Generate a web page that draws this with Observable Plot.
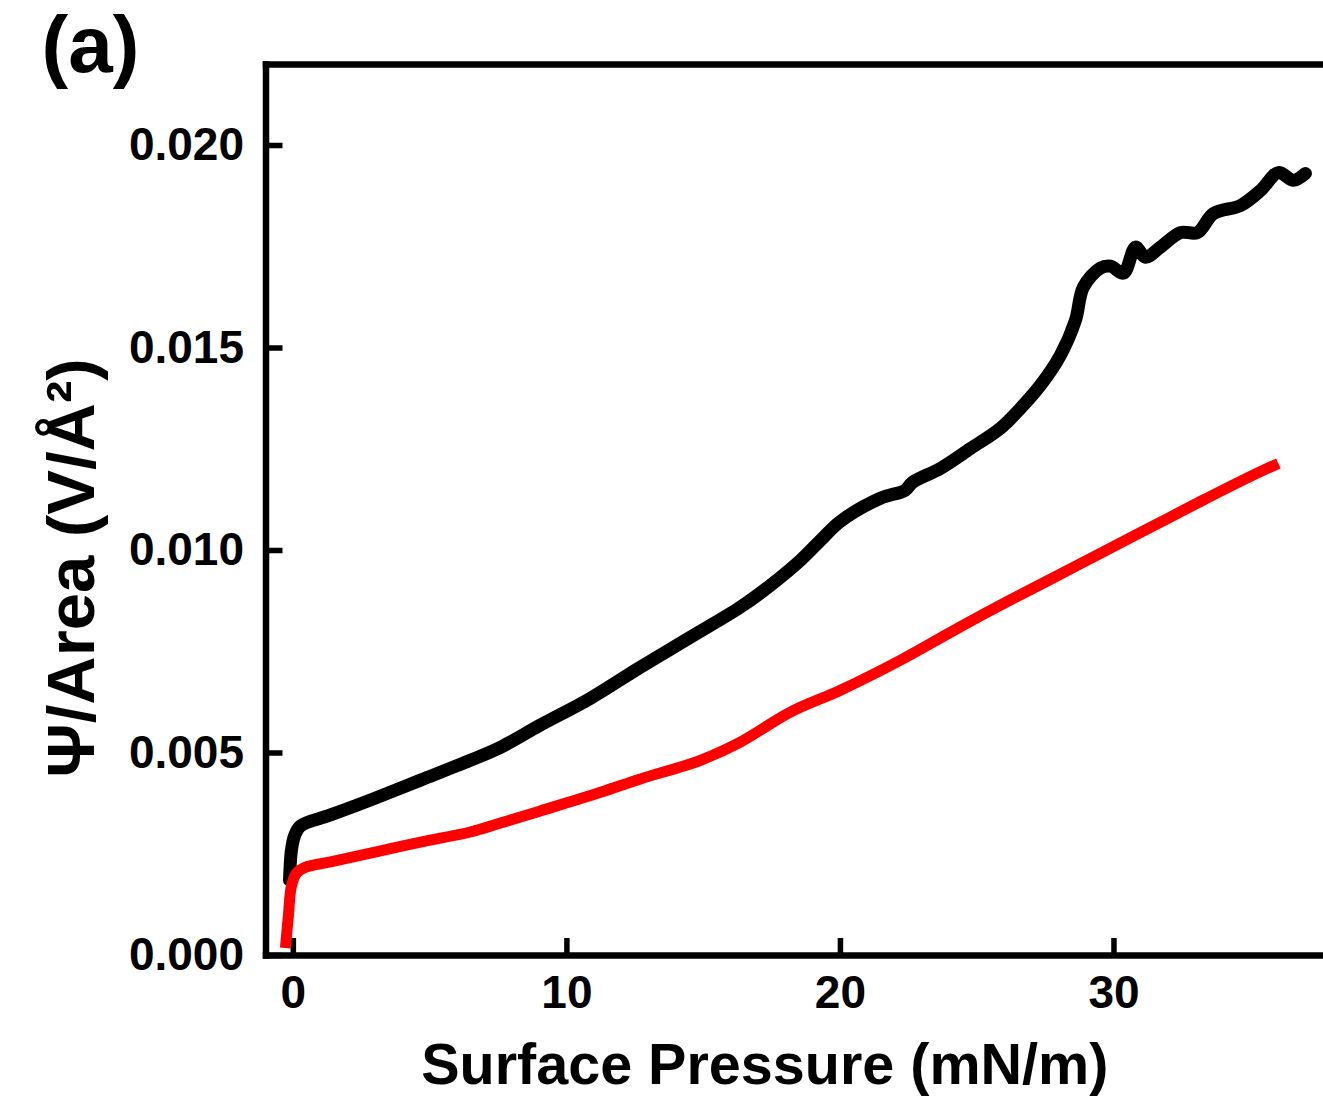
<!DOCTYPE html>
<html><head><meta charset="utf-8">
<script src="https://cdn.jsdelivr.net/npm/d3@7"></script>
<script src="https://cdn.jsdelivr.net/npm/@observablehq/plot@0.6"></script>
<style>body{margin:0;background:#fff} svg{display:block}</style>
</head><body><div id="chart"></div>
<script>
// Black series (surface pressure mN/m, Ψ/Area V/Å²)
const blackX = [-0.14,-0.07,0.04,0.26,1.36,2.82,4.65,6.47,7.57,9.03,10.86,12.69,14.52,16.34,17.44,18.54,19.27,20.0,21.46,22.37,22.63,23.66,24.76,25.85,26.58,27.31,28.04,28.59,28.88,29.5,29.87,30.35,30.79,31.15,31.7,32.43,33.05,33.64,34.63,35.36,36.01,36.56,37.0];
const blackY = [0.00186,0.0026,0.00295,0.0032,0.00347,0.00384,0.00433,0.00482,0.00514,0.00569,0.00635,0.00712,0.00786,0.0086,0.00914,0.00976,0.01025,0.01072,0.01129,0.01149,0.01168,0.01203,0.01252,0.01302,0.01351,0.01408,0.01482,0.01568,0.0165,0.01697,0.01702,0.01685,0.01749,0.01724,0.01749,0.01785,0.01785,0.01832,0.01852,0.01889,0.01933,0.01914,0.01931];
// Red series
const redX = [-0.29,-0.18,-0.07,0.12,0.45,1.36,2.82,4.65,6.47,7.57,9.03,11.23,12.69,14.88,16.34,18.17,20.0,22.19,24.02,25.85,27.68,29.5,31.33,33.16,34.99,36.01];
const redY = [0.000185,0.001,0.00172,0.00204,0.00218,0.00231,0.00253,0.0028,0.00305,0.00327,0.00357,0.00403,0.00436,0.00482,0.00527,0.00601,0.00655,0.00729,0.00798,0.00865,0.00929,0.00993,0.01057,0.01121,0.01183,0.01215];

const xTicks = [0, 10, 20, 30];
const yTicks = [0, 0.005, 0.010, 0.015, 0.020];
const xLabel = "Surface Pressure (mN/m)";
const yLabel = "Ψ/Area (V/Å²)";
const panelLabel = "(a)";

const black = blackX.map((x, i) => ({x, y: blackY[i]}));
const red = redX.map((x, i) => ({x, y: redY[i]}));

const chart = Plot.plot({
  width: 1323, height: 1098,
  marginLeft: 265.5, marginRight: 0, marginTop: 64, marginBottom: 143,
  x: {domain: [-1, 37.66]},
  y: {domain: [0, 0.022]},
  style: {fontFamily: "'Liberation Sans', Arial, sans-serif", fontWeight: "bold", background: "white", color: "black"},
  marks: [
    Plot.frame({anchor: "left", strokeWidth: 6.5}),
    Plot.frame({anchor: "top", strokeWidth: 6.5}),
    Plot.frame({anchor: "bottom", strokeWidth: 6.5}),
    Plot.axisX(xTicks, {fill: "none", tickSize: -17, strokeWidth: 5.5, label: null}),
    Plot.axisX(xTicks, {tickSize: 0, tickPadding: 20, fontSize: 46, label: null, tickFormat: d => String(d)}),
    Plot.axisY(yTicks, {fill: "none", tickSize: -17, strokeWidth: 5.5, label: null}),
    Plot.axisY(yTicks, {tickSize: 0, tickPadding: 22, fontSize: 46, label: null, tickFormat: d3.format(".3f")}),
    Plot.line(black, {x: "x", y: "y", stroke: "black", strokeWidth: 13, curve: "catmull-rom", strokeLinecap: "round", strokeLinejoin: "round"}),
    Plot.line(red, {x: "x", y: "y", stroke: "#ff0000", strokeWidth: 11, curve: "catmull-rom", strokeLinecap: "butt", strokeLinejoin: "round"}),
    Plot.text([xLabel], {frameAnchor: "bottom", textAnchor: "middle", dx: -30, dy: 110, fontSize: 57.5, lineAnchor: "middle", fill: "black"}),
    Plot.text([yLabel], {frameAnchor: "left", textAnchor: "middle", dx: -193, dy: 58, rotate: -90, fontSize: 67, lineAnchor: "middle", fill: "black", ariaLabel: "ylabel"}),
    Plot.text([panelLabel], {frameAnchor: "top-left", textAnchor: "middle", dx: -175.5, dy: -18, fontSize: 80, lineAnchor: "middle", fill: "black"})
  ]
});
document.getElementById("chart").appendChild(chart);

// Rich formatting for the y label: serif Ψ and superscript 2
const yl = chart.querySelector('g[aria-label="ylabel"] text');
if (yl) {
  yl.textContent = "";
  const ns = "http://www.w3.org/2000/svg";
  const parts = [
    {t: "Ψ", attrs: {"font-family": "Liberation Serif, DejaVu Serif, serif", "font-weight": "normal", "font-size": "1.08em"}},
    {t: "/Area (V/Å", attrs: {"font-size": "1em"}},
    {t: "2", attrs: {"font-size": "0.62em", dy: "-0.75em"}},
    {t: ")", attrs: {dy: "0.465em"}}
  ];
  for (const p of parts) {
    const ts = document.createElementNS(ns, "tspan");
    ts.textContent = p.t;
    if (p.attrs) for (const k in p.attrs) ts.setAttribute(k, p.attrs[k]);
    yl.appendChild(ts);
  }
}
</script>
</body></html>
